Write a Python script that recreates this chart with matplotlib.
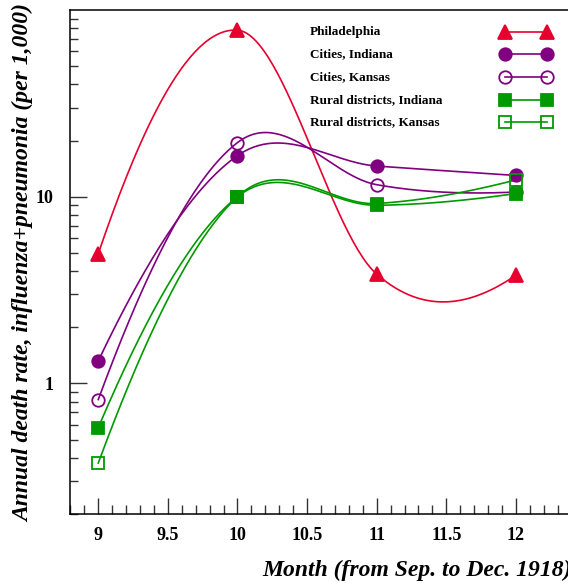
import numpy as np
import matplotlib
matplotlib.use("Agg")
import matplotlib.pyplot as plt
from matplotlib.ticker import FixedLocator, MultipleLocator, NullFormatter

# ---- data ----
months = [9, 10, 11, 12]
philadelphia = [4.95, 78.0, 3.85, 3.8]
cities_indiana = [1.32, 16.6, 14.6, 13.0]
cities_kansas = [0.82, 19.5, 11.6, 10.6]
rural_indiana = [0.58, 10.0, 9.0, 10.4]
rural_kansas = [0.375, 10.0, 9.2, 12.3]
series_names = ["Philadelphia", "Cities, Indiana", "Cities, Kansas",
                "Rural districts, Indiana", "Rural districts, Kansas"]
x_ticks = [9, 9.5, 10, 10.5, 11, 11.5, 12]
x_tick_labels = ["9", "9.5", "10", "10.5", "11", "11.5", "12"]
y_ticks = [1, 10]
y_tick_labels = ["1", "10"]
x_label = "Month (from Sep. to Dec. 1918)"
y_label = "Annual death rate, influenza+pneumonia (per 1,000)"

RED = "#e6002e"
PURPLE = "#800080"
GREEN = "#009a00"
styles = [
    dict(color=RED, marker="^", mfc=RED, ms=10),
    dict(color=PURPLE, marker="o", mfc=PURPLE, ms=9),
    dict(color=PURPLE, marker="o", mfc="none", ms=9),
    dict(color=GREEN, marker="s", mfc=GREEN, ms=8.5),
    dict(color=GREEN, marker="s", mfc="none", ms=8.5),
]
all_series = [philadelphia, cities_indiana, cities_kansas, rural_indiana, rural_kansas]

W, H = 568, 583
fig = plt.figure(figsize=(W / 100, H / 100), dpi=100)
left_px, right_px, top_px, bottom_px = 70, 572, 10, 514
ax = fig.add_axes([left_px / W, 1 - bottom_px / H, (right_px - left_px) / W,
                   (bottom_px - top_px) / H])
ax.set_yscale("log")
ax.set_xlim(8.797, 12.403)
ax.set_ylim(0.2, 100)

serif = "Liberation Serif"


def smooth_curve(xd, yd, end_ratio=0.8, n=60):
    """Hermite smoothing in a rescaled (x, log y) space, ROOT-like."""
    x = np.asarray(xd, float)
    ly = np.log10(np.asarray(yd, float))
    sx = 20.0 / (x.max() - x.min())
    sy = 1.0 / (ly.max() - ly.min())
    X, Y = x * sx, ly * sy
    chord = np.diff(Y) / np.diff(X)
    ang = np.arctan(chord)
    slopes = np.zeros(len(X))
    for i in range(1, len(X) - 1):
        slopes[i] = np.tan(0.5 * (ang[i - 1] + ang[i]))
    slopes[0] = chord[0] - end_ratio * (slopes[1] - chord[0])
    slopes[-1] = chord[-1] - end_ratio * (slopes[-2] - chord[-1])
    ox, oy = [], []
    for i in range(len(X) - 1):
        h = X[i + 1] - X[i]
        t = np.linspace(0, 1, n)
        h00 = 2 * t ** 3 - 3 * t ** 2 + 1
        h10 = t ** 3 - 2 * t ** 2 + t
        h01 = -2 * t ** 3 + 3 * t ** 2
        h11 = t ** 3 - t ** 2
        yy = h00 * Y[i] + h10 * h * slopes[i] + h01 * Y[i + 1] + h11 * h * slopes[i + 1]
        xx = X[i] + t * h
        ox.append(xx)
        oy.append(yy)
    ox = np.concatenate(ox) / sx
    oy = 10 ** (np.concatenate(oy) / sy)
    return ox, oy


for vals, st in zip(all_series, styles):
    cx, cy = smooth_curve(months, vals)
    ax.plot(cx, cy, color=st["color"], lw=1.2, zorder=2)
    ax.plot(months, vals, linestyle="none", marker=st["marker"], ms=st["ms"],
            mfc=st["mfc"], mec=st["color"], mew=1.3, zorder=3, clip_on=False)

# axes styling
for s in ["left", "bottom", "top"]:
    ax.spines[s].set_linewidth(1.1)
ax.spines["right"].set_visible(False)
ax.xaxis.set_major_locator(FixedLocator(x_ticks))
ax.set_xticklabels(x_tick_labels)
ax.xaxis.set_minor_locator(MultipleLocator(0.1))
ax.yaxis.set_major_locator(FixedLocator(y_ticks))
ax.set_yticklabels(y_tick_labels)
ax.yaxis.set_minor_locator(FixedLocator(
    [v * 10.0 ** e for e in (-1, 0, 1) for v in range(2, 10)]))
ax.yaxis.set_minor_formatter(NullFormatter())
ax.tick_params(axis="both", which="both", direction="in", top=False, right=False,
               width=1.0, color="#333333")
ax.tick_params(axis="x", which="major", length=11.5, pad=9)
ax.tick_params(axis="x", which="minor", length=6.5)
ax.tick_params(axis="y", which="major", length=12, pad=12)
ax.tick_params(axis="y", which="minor", length=6)
for lab in ax.get_xticklabels() + ax.get_yticklabels():
    lab.set_fontfamily(serif)
    lab.set_fontweight("bold")
    lab.set_fontsize(13)

# axis titles
fig.text(572 / W, 1 - 576 / H, x_label, ha="right", va="baseline",
         fontfamily=serif, fontweight="bold", fontstyle="italic", fontsize=17)
fig.text(24 / W, 1 - 4 / H, y_label, ha="center", va="top", rotation=90,
         fontfamily=serif, fontweight="bold", fontstyle="italic", fontsize=17)

# legend (manual)
row_y = [31.5, 54, 77, 100, 122]
for name, st, ry in zip(series_names, styles, row_y):
    yf = 1 - (ry - top_px) / (bottom_px - top_px)
    xt = (310 - left_px) / (right_px - left_px)
    ax.text(xt, yf, name, transform=ax.transAxes, ha="left", va="center",
            fontfamily=serif, fontweight="bold", fontsize=9.5)
    x0 = (505 - left_px) / (right_px - left_px)
    x1 = (547 - left_px) / (right_px - left_px)
    ax.plot([x0, x1], [yf, yf], transform=ax.transAxes, color=st["color"], lw=1.2,
            marker=st["marker"], ms=st["ms"], mfc=st["mfc"], mec=st["color"],
            mew=1.3, clip_on=False)

fig.savefig("out.png", dpi=100)
